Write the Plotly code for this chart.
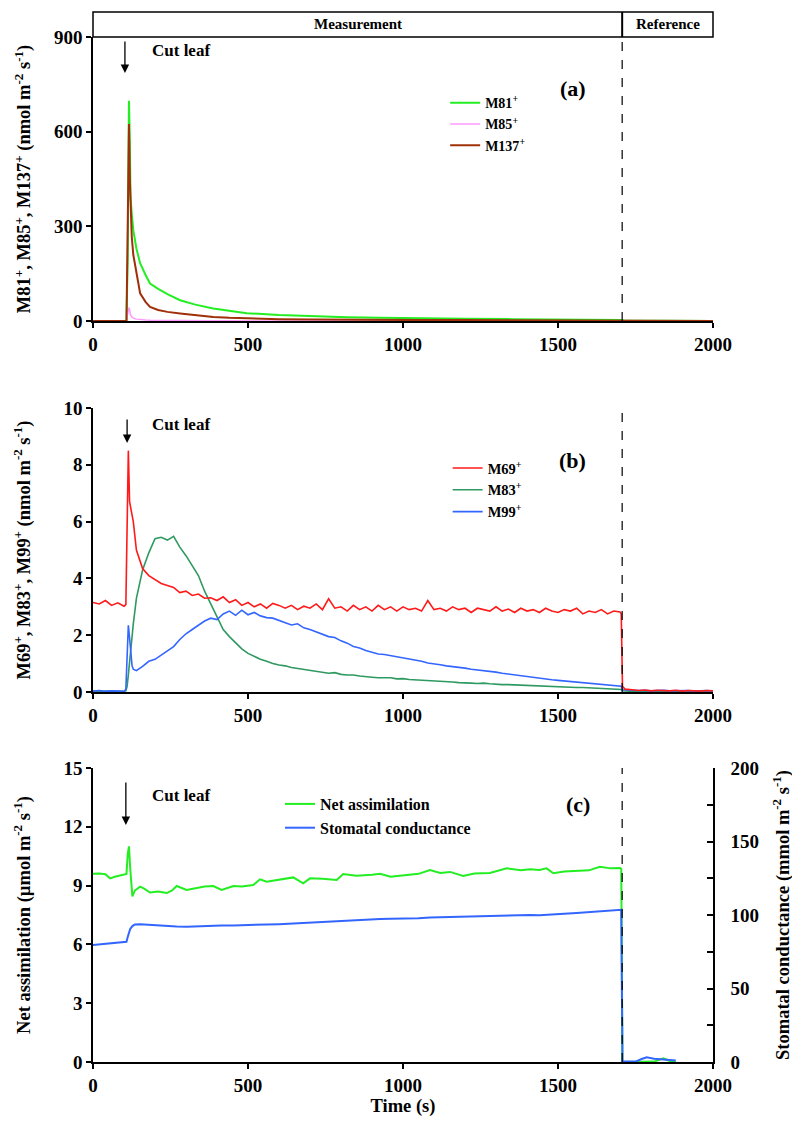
import plotly.graph_objects as go

# ---------------- Panel (a) data ----------------
t_a = [0, 50, 100, 108, 112, 116, 119, 121, 125, 130, 140, 152, 170, 184, 210, 240, 281, 330,
       388, 440, 496, 600, 710, 820, 926, 1050, 1200, 1350, 1500, 1600, 1700, 1704, 1712, 1750, 1850, 2000]
m81 = [0, 0, 0, 0, 200, 698, 560, 394, 340, 288, 230, 183, 145, 119, 102, 85, 66, 52,
       40, 32, 25, 19, 15, 12, 10, 8, 7, 6, 5, 4.5, 4, 3, 1.5, 1, 0.5, 0]
m85 = [0, 0, 0, 0, 25, 42, 32, 20, 13, 9, 6, 4, 3, 2.5, 2, 1.5, 1, 1,
       0.5, 0.5, 0.5, 0.3, 0.2, 0.2, 0.1, 0.1, 0.1, 0, 0, 0, 0, 0, 0, 0, 0, 0]
m137 = [0, 0, 0, 0, 300, 624, 447, 380, 267, 210, 150, 88, 60, 45, 35, 29, 24, 18,
        13, 10, 8, 6, 5, 4, 3.5, 3, 3, 2.5, 2, 2, 2, 2, 1, 0.5, 0, 0]

# ---------------- Panel (b) data ----------------
t_b = ([0, 20, 40, 60, 80, 100, 106, 110, 114, 118, 122, 126, 130]
       + list(range(140, 1701, 20)) + [1704, 1708, 1716] + list(range(1740, 2001, 20)))
m69 = ([3.15, 3.10, 3.22, 3.05, 3.14, 3.02, 3.08, 6.9, 8.5, 6.7, 6.5, 6.3, 6.0]
       + [5.0, 4.35, 4.1, 3.95, 3.82, 3.75, 3.68, 3.5, 3.55, 3.4,
          3.45, 3.3, 3.32, 3.22, 3.35, 3.15, 3.25, 3.05, 3.15, 3.0,
          3.1, 2.95, 3.12, 3.05, 2.95, 3.05, 2.9, 3.02, 2.95, 3.1,
          2.9, 3.28, 2.95, 3.0, 2.85, 3.05, 2.9, 3.0, 2.85, 3.05,
          2.9, 3.0, 2.85, 3.0, 2.9, 2.95, 2.85, 3.22, 2.9, 2.95,
          2.85, 3.0, 2.9, 2.95, 2.8, 2.95, 2.9, 2.85, 3.0, 2.85,
          2.92, 2.8, 2.95, 2.85, 2.9, 2.8, 2.95, 2.85, 2.8, 2.9,
          2.85, 2.95, 2.75, 2.85, 2.8, 2.9, 2.75, 2.85, 2.82]
       + [2.75, 0.2, 0.1]
       + [0.08, 0.05, 0.07, 0.04, 0.06, 0.05, 0.04, 0.06, 0.03, 0.05, 0.04, 0.03, 0.05, 0.04])
m83 = ([0.02, 0.01, 0.03, 0.02, 0.01, 0.02, 0.04, 0.2, 0.6, 1.1, 1.6, 2.0, 2.4]
       + [3.3, 4.3, 4.9, 5.4, 5.45, 5.35, 5.48, 5.1, 4.8, 4.45,
          4.1, 3.55, 3.1, 2.6, 2.2, 1.95, 1.72, 1.52, 1.36, 1.25,
          1.15, 1.08, 1.0, 0.95, 0.92, 0.86, 0.83, 0.8, 0.76, 0.72,
          0.7, 0.66, 0.68, 0.62, 0.6, 0.6, 0.56, 0.53, 0.52, 0.5,
          0.49, 0.5, 0.46, 0.47, 0.44, 0.43, 0.41, 0.4, 0.38, 0.37,
          0.36, 0.35, 0.33, 0.33, 0.31, 0.3, 0.31, 0.29, 0.27, 0.26,
          0.26, 0.25, 0.24, 0.22, 0.22, 0.21, 0.2, 0.19, 0.18, 0.18,
          0.17, 0.16, 0.16, 0.15, 0.14, 0.13, 0.12, 0.11, 0.1]
       + [0.09, 0.04, 0.03]
       + [0.02, 0.03, 0.02, 0.01, 0.02, 0.02, 0.01, 0.02, 0.01, 0.02, 0.01, 0.02, 0.01, 0.01])
m99 = ([0.03, 0.05, 0.02, 0.04, 0.03, 0.02, 0.1, 1.3, 2.35, 1.9, 1.25, 0.92, 0.8]
       + [0.75, 0.9, 1.08, 1.15, 1.3, 1.45, 1.6, 1.85, 2.05, 2.2,
          2.35, 2.5, 2.6, 2.55, 2.75, 2.85, 2.7, 2.88, 2.72, 2.8,
          2.68, 2.62, 2.6, 2.52, 2.45, 2.36, 2.4, 2.26, 2.2, 2.12,
          2.05, 1.95, 1.92, 1.8, 1.72, 1.6, 1.55, 1.46, 1.4, 1.34,
          1.32, 1.28, 1.25, 1.2, 1.15, 1.12, 1.08, 1.02, 1.0, 0.96,
          0.92, 0.9, 0.86, 0.84, 0.8, 0.78, 0.75, 0.72, 0.7, 0.66,
          0.63, 0.6, 0.56, 0.53, 0.5, 0.48, 0.45, 0.43, 0.41, 0.39,
          0.37, 0.35, 0.33, 0.31, 0.29, 0.27, 0.25, 0.22, 0.21]
       + [0.2, 0.08, 0.07]
       + [0.06, 0.05, 0.06, 0.04, 0.05, 0.06, 0.04, 0.05, 0.04, 0.05, 0.03, 0.04, 0.05, 0.03])

# ---------------- Panel (c) data ----------------
t_c = [0, 20, 40, 55, 70, 90, 100, 108, 112, 116, 120, 127, 135, 152, 165, 184, 210, 238, 255, 270,
       302, 330, 360, 388, 415, 453, 480, 517, 539, 560, 600, 646, 678, 700, 740, 786, 807, 850,
       900, 926, 960, 1000, 1050, 1087, 1120, 1152, 1194, 1230, 1280, 1335, 1380, 1410, 1440, 1463,
       1485, 1520, 1560, 1600, 1635, 1670, 1700, 1704, 1708, 1720, 1750, 1770, 1786, 1810, 1840,
       1860, 1880]
net_assim = [9.6, 9.62, 9.58, 9.37, 9.45, 9.54, 9.55, 9.6, 10.6, 11.0, 9.9, 8.45, 8.75,
             8.95, 8.85, 8.65, 8.7, 8.62, 8.75, 8.98, 8.78, 8.85, 8.95, 8.98, 8.78, 8.98, 8.95,
             9.03, 9.32, 9.2, 9.3, 9.42, 9.12, 9.37, 9.35, 9.29, 9.59, 9.5, 9.55, 9.6, 9.45,
             9.52, 9.6, 9.8, 9.65, 9.7, 9.49, 9.62, 9.65, 9.88, 9.78, 9.83, 9.8, 9.88, 9.63,
             9.72, 9.75, 9.78, 9.96, 9.88, 9.9, 9.85, 0.0, 0.0, 0.0, 0.02, 0.03, 0.02, 0.19,
             0.05, 0.0]
stom_cond = [79.6, 80.0, 80.3, 80.6, 80.9, 81.2, 81.4, 81.8, 85.0, 88.5, 90.5, 92.5, 93.5,
             93.7, 93.5, 93.3, 93.1, 92.8, 92.5, 92.2, 92.0, 92.3, 92.5, 92.6, 92.8, 92.9, 93.0,
             93.1, 93.3, 93.4, 93.8, 94.2, 94.6, 94.9, 95.3, 95.8, 96.1, 96.6, 97.1, 97.3, 97.4,
             97.4, 97.8, 98.3, 98.5, 98.7, 99.0, 99.2, 99.6, 100.0, 100.1, 100.0, 99.8, 100.2, 100.4,
             100.8, 101.3, 101.9, 102.4, 102.9, 103.4, 103.5, 0.5, 0.3, 0.3, 2.0, 3.2, 2.2, 1.6,
             1.3, 1.0]

x_ticks = [0, 500, 1000, 1500, 2000]
switch_time = 1707

FONT = "Liberation Serif"
TICKFONT = dict(family=FONT, size=19, color="black", weight="bold")
TITLEFONT = dict(family=FONT, size=18.5, color="black", weight="bold")

fig = go.Figure()

# panel a
fig.add_trace(go.Scatter(x=t_a, y=m81, mode="lines", name="M81<sup>+</sup>",
                         line=dict(color="#22ee22", width=2), xaxis="x", yaxis="y", legend="legend"))
fig.add_trace(go.Scatter(x=t_a, y=m85, mode="lines", name="M85<sup>+</sup>",
                         line=dict(color="#ff99ff", width=1.5), xaxis="x", yaxis="y", legend="legend"))
fig.add_trace(go.Scatter(x=t_a, y=m137, mode="lines", name="M137<sup>+</sup>",
                         line=dict(color="#a0300a", width=2), xaxis="x", yaxis="y", legend="legend"))
# panel b
fig.add_trace(go.Scatter(x=t_b, y=m83, mode="lines", name="M83<sup>+</sup>",
                         line=dict(color="#2e9960", width=1.6), xaxis="x2", yaxis="y2", legend="legend2",
                         legendrank=2))
fig.add_trace(go.Scatter(x=t_b, y=m99, mode="lines", name="M99<sup>+</sup>",
                         line=dict(color="#3366ff", width=1.6), xaxis="x2", yaxis="y2", legend="legend2",
                         legendrank=3))
fig.add_trace(go.Scatter(x=t_b, y=m69, mode="lines", name="M69<sup>+</sup>",
                         line=dict(color="#ff1a1a", width=1.6), xaxis="x2", yaxis="y2", legend="legend2",
                         legendrank=1))
# panel c
fig.add_trace(go.Scatter(x=t_c, y=net_assim, mode="lines", name="Net assimilation",
                         line=dict(color="#22ee22", width=2), xaxis="x3", yaxis="y3", legend="legend3"))
fig.add_trace(go.Scatter(x=t_c, y=stom_cond, mode="lines", name="Stomatal conductance",
                         line=dict(color="#3366ff", width=2), xaxis="x3", yaxis="y4", legend="legend3"))

axis_common = dict(showline=True, linecolor="black", linewidth=1.5, ticks="outside",
                   ticklen=5, tickwidth=1.5, tickcolor="black", showgrid=False, zeroline=False,
                   tickfont=TICKFONT, mirror=False, automargin=False)

# page body has an 8px offset, margins compensate so the plot area sits at 93..713 x 37..1062
fig.update_layout(
    width=800, height=1132,
    margin=dict(l=85, r=95, t=29, b=78),
    paper_bgcolor="white", plot_bgcolor="white",
    font=dict(family=FONT, color="black"),
    xaxis=dict(domain=[0, 1], range=[0, 2000], tickvals=x_ticks, anchor="y", **axis_common),
    yaxis=dict(domain=[0.7229, 1], range=[0, 900], dtick=300, anchor="x",
               title=dict(text="M81<sup>+</sup>, M85<sup>+</sup>, M137<sup>+</sup> (nmol m<sup>-2</sup> s<sup>-1</sup>)",
                          font=TITLEFONT, standoff=18),
               **axis_common),
    xaxis2=dict(domain=[0, 1], range=[0, 2000], tickvals=x_ticks, anchor="y2", **axis_common),
    yaxis2=dict(domain=[0.3610, 0.6380], range=[0, 10], dtick=2, anchor="x2",
                title=dict(text="M69<sup>+</sup>, M83<sup>+</sup>, M99<sup>+</sup> (nmol m<sup>-2</sup> s<sup>-1</sup>)",
                           font=TITLEFONT, standoff=28),
                **axis_common),
    xaxis3=dict(domain=[0, 1], range=[0, 2000], tickvals=x_ticks, anchor="y3",
                title=dict(text="Time (s)", font=TITLEFONT, standoff=0),
                **axis_common),
    yaxis3=dict(domain=[0, 0.2868], range=[0, 15], dtick=3, anchor="x3",
                title=dict(text="Net assimilation (µmol m<sup>-2</sup> s<sup>-1</sup>)",
                           font=TITLEFONT, standoff=28),
                **axis_common),
    yaxis4=dict(range=[0, 200], dtick=50, overlaying="y3", side="right", anchor="x3",
                showline=True, linecolor="black", linewidth=1.5, ticks="inside", ticklen=6,
                tickwidth=1.5, tickcolor="black", showgrid=False, zeroline=False, tickfont=TICKFONT,
                automargin=False, ticklabelstandoff=12,
                minor=dict(dtick=25, ticks="inside", ticklen=6, tickwidth=1.5, tickcolor="black"),
                title=dict(text="Stomatal conductance (mmol m<sup>-2</sup> s<sup>-1</sup>)",
                           font=TITLEFONT, standoff=18)),
    legend=dict(x=0.568, y=0.915, xanchor="left", yanchor="middle", bgcolor="rgba(0,0,0,0)",
                font=dict(family=FONT, size=14, weight="bold"), itemwidth=30),
    legend2=dict(x=0.572, y=0.558, xanchor="left", yanchor="middle", bgcolor="rgba(0,0,0,0)",
                 font=dict(family=FONT, size=14.5, weight="bold"), itemwidth=30),
    legend3=dict(x=0.3016, y=0.240, xanchor="left", yanchor="middle", bgcolor="rgba(0,0,0,0)",
                 font=dict(family=FONT, size=16, weight="bold"), itemwidth=30),
    showlegend=True,
)

shapes = [
    dict(type="rect", xref="paper", yref="paper", x0=0, x1=1, y0=1, y1=1.0244,
         line=dict(color="black", width=1.5)),
    dict(type="line", xref="x", yref="paper", x0=switch_time, x1=switch_time, y0=1, y1=1.0244,
         line=dict(color="black", width=2)),
    dict(type="line", xref="x", yref="y", x0=switch_time, x1=switch_time, y0=0, y1=900,
         line=dict(color="black", width=1.2, dash="dash")),
    dict(type="line", xref="x2", yref="y2", x0=switch_time, x1=switch_time, y0=0, y1=10,
         line=dict(color="black", width=1.2, dash="dash")),
    dict(type="line", xref="x3", yref="y3", x0=switch_time, x1=switch_time, y0=0, y1=15,
         line=dict(color="black", width=1.2, dash="dash")),
]
fig.update_layout(shapes=shapes)

ann_font = dict(family=FONT, size=17, color="black", weight="bold")
label_font = dict(family=FONT, size=22, color="black", weight="bold")
head_font = dict(family=FONT, size=15, color="black", weight="bold")
annotations = [
    dict(text="Measurement", xref="paper", yref="paper", x=switch_time / 2 / 2000, y=1.0122,
         xanchor="center", yanchor="middle", showarrow=False, font=head_font),
    dict(text="Reference", xref="paper", yref="paper", x=(switch_time + 2000) / 2 / 2000, y=1.0122,
         xanchor="center", yanchor="middle", showarrow=False, font=head_font),
    # cut leaf labels
    dict(text="Cut leaf", xref="x", yref="y", x=185, y=856, xanchor="left", yanchor="middle",
         showarrow=False, font=ann_font),
    dict(text="Cut leaf", xref="x2", yref="y2", x=185, y=9.43, xanchor="left", yanchor="middle",
         showarrow=False, font=ann_font),
    dict(text="Cut leaf", xref="x3", yref="y3", x=185, y=13.62, xanchor="left", yanchor="middle",
         showarrow=False, font=ann_font),
    # arrows
    dict(text="", xref="x", yref="y", x=103, y=786, ax=0, ay=-33, showarrow=True,
         arrowhead=2, arrowsize=1.3, arrowwidth=1.3, arrowcolor="black"),
    dict(text="", xref="x2", yref="y2", x=110, y=8.77, ax=0, ay=-25, showarrow=True,
         arrowhead=2, arrowsize=1.3, arrowwidth=1.3, arrowcolor="black"),
    dict(text="", xref="x3", yref="y3", x=106, y=12.09, ax=0, ay=-44, showarrow=True,
         arrowhead=2, arrowsize=1.3, arrowwidth=1.3, arrowcolor="black"),
    # panel labels
    dict(text="(a)", xref="x", yref="y", x=1548, y=738, showarrow=False, font=label_font),
    dict(text="(b)", xref="x2", yref="y2", x=1548, y=8.17, showarrow=False, font=label_font),
    dict(text="(c)", xref="x3", yref="y3", x=1565, y=13.16, showarrow=False, font=label_font),
]
fig.update_layout(annotations=annotations)

fig.write_html("out.html")
